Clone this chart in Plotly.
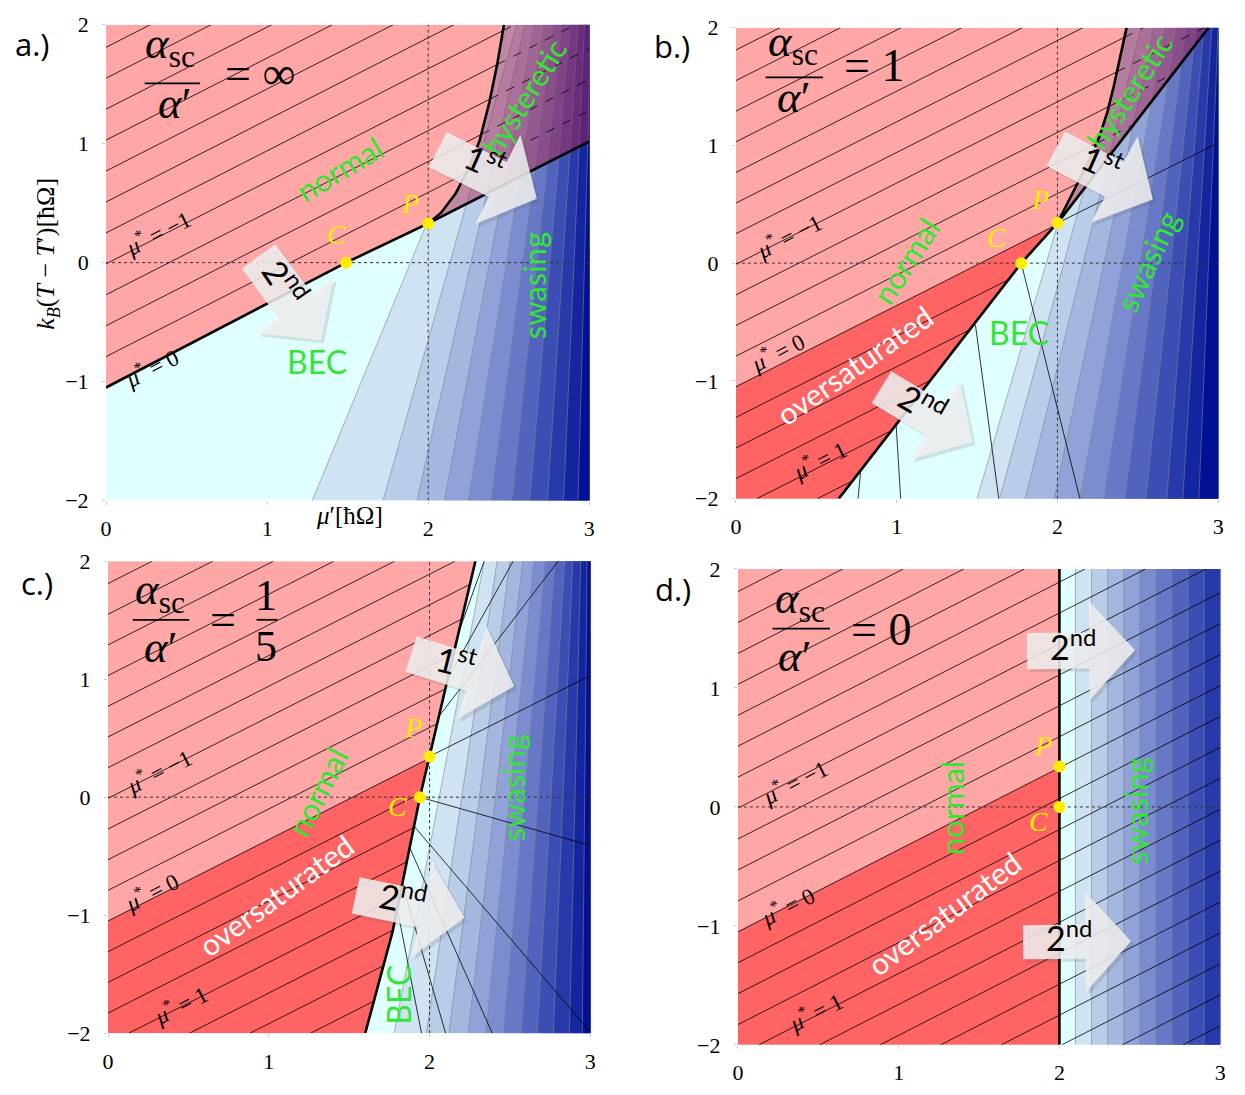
import math
import plotly.graph_objects as go

W, H = 1245, 1095

# ---------------- data ----------------
x_tick_vals = [0, 1, 2, 3]
y_tick_vals = [-2, -1, 0, 1, 2]

# mu* = const contour lines:  y = mu_slope*x + mu_zero_intercept - mu_step*level
mu_slope = 0.69
mu_zero_intercept = -1.05
mu_step = 1.04
mu_levels = [-2.75, -2.5, -2.25, -2.0, -1.75, -1.5, -1.25, -1.0, -0.75, -0.5, -0.25,
             0.0, 0.25, 0.5, 0.75, 1.0, 1.25, 1.5, 1.75, 2.0, 2.25, 2.5, 2.75]

band_colors = ["#cfe3f3", "#b9cce8", "#a4b7df", "#90a2d7", "#7b8dcf", "#6678c6",
               "#5163bd", "#3c4eb4", "#2839aa", "#1425a0", "#021094"]

# (a) alpha_sc/alpha' = infinity
a_second_x = [0.0, 1.49, 2.0]
a_second_y = [-1.05, 0.0, 0.33]
a_first_x = [2.0, 2.08, 2.17, 2.25, 2.32, 2.38, 2.43, 2.47]
a_first_y = [0.33, 0.42, 0.58, 0.79, 1.03, 1.35, 1.68, 2.0]
a_spinodal_x = [2.0, 3.0]
a_spinodal_y = [0.33, 1.02]
a_band_bottom = [1.28, 1.72, 1.93, 2.10, 2.25, 2.39, 2.52, 2.63, 2.74, 2.84, 2.93]
a_band_top = [2.50, 2.55, 2.60, 2.66, 2.72, 2.78, 2.83, 2.88, 2.93, 2.97, 3.01]
a_points_x = [1.49, 2.0]   # C, P
a_points_y = [0.0, 0.33]

# (b) alpha_sc/alpha' = 1
b_second_x = [0.64, 1.775, 2.0]
b_second_y = [-2.0, 0.0, 0.34]
b_first_x = [2.0, 2.1, 2.2, 2.26, 2.31, 2.35, 2.39, 2.43]
b_first_y = [0.34, 0.61, 0.88, 1.07, 1.28, 1.5, 1.75, 2.0]
b_spinodal_x = [2.0, 2.94]
b_spinodal_y = [0.34, 2.0]
b_band_bottom = [1.50, 1.64, 1.80, 1.98, 2.14, 2.29, 2.42, 2.55, 2.68, 2.78, 2.88]
b_band_top = [2.36, 2.44, 2.52, 2.60, 2.67, 2.74, 2.80, 2.86, 2.91, 2.96, 3.00]
b_thin_x = [[0.775, 0.76], [0.996, 1.025], [1.49, 1.635], [1.775, 2.14], [2.0, 3.0]]
b_thin_y = [[-1.78, -2.0], [-1.36, -2.0], [-0.525, -2.0], [0.0, -2.0], [0.34, 1.02]]
b_points_x = [1.775, 2.0]
b_points_y = [0.0, 0.34]

# (c) alpha_sc/alpha' = 1/5
c_second_x = [1.60, 1.77, 1.94, 2.0, 2.285]
c_second_y = [-2.0, -1.14, 0.0, 0.345, 2.0]
c_band_bottom = [1.78, 1.98, 2.12, 2.24, 2.35, 2.46, 2.57, 2.67, 2.77, 2.87, 2.95]
c_band_top = [2.34, 2.42, 2.50, 2.58, 2.65, 2.72, 2.78, 2.84, 2.89, 2.94, 2.98]
c_thin_x = [[2.0, 3.0], [1.94, 3.0], [1.90, 3.0], [1.88, 2.39], [1.83, 2.10], [1.80, 1.95],
            [2.05, 2.80], [2.12, 2.52], [2.19, 2.34]]
c_thin_y = [[0.345, 1.03], [0.0, -0.41], [-0.24, -1.99], [-0.44, -2.0], [-0.73, -2.0],
            [-0.95, -2.0], [0.67, 2.0], [1.02, 2.0], [1.43, 2.0]]
c_points_x = [1.94, 2.0]
c_points_y = [0.0, 0.345]

# (d) alpha_sc/alpha' = 0
d_second_x = [2.0, 2.0]
d_second_y = [-2.0, 2.0]
d_band_bottom = [2.1, 2.2, 2.3, 2.4, 2.5, 2.6, 2.7, 2.8, 2.9]
d_band_top = [2.1, 2.2, 2.3, 2.4, 2.5, 2.6, 2.7, 2.8, 2.9]
d_points_x = [2.0, 2.0]
d_points_y = [0.0, 0.34]

# ---------------- styles ----------------
PINK = "#ffa6a6"
RED = "#ff6464"
BEC = "#e0ffff"
HYST = "rgba(175,35,75,0.47)"
GREEN = "#33e633"
YELLOW = "#ffee00"
SERIF = "Liberation Serif"
SANS = "Lato"
GLYPH_DROP = 7   # compensation for annotation boxes that sit text low

# pixel boxes of the four plot areas: (left, right, top, bottom)
boxes = [(101, 589, 13, 500), (737, 1224, 16, 498), (103, 590, 562, 1045), (739, 1226, 570, 1057)]


def p2p(px, py):
    return px / W, 1 - py / H


def seg_hits(m, c, xs, ys):
    hits = []
    for i in range(len(xs) - 1):
        f1 = ys[i] - (m * xs[i] + c)
        f2 = ys[i + 1] - (m * xs[i + 1] + c)
        if f1 == f2:
            continue
        if f1 == 0 or f2 == 0 or (f1 < 0) != (f2 < 0):
            s = f1 / (f1 - f2)
            hits.append(xs[i] + s * (xs[i + 1] - xs[i]))
    return hits


def interp_x(y, xs, ys):
    for i in range(len(ys) - 1):
        if ys[i] <= y <= ys[i + 1] and ys[i + 1] != ys[i]:
            s = (y - ys[i]) / (ys[i + 1] - ys[i])
            return xs[i] + s * (xs[i + 1] - xs[i])
    return xs[0] if y < ys[0] else xs[-1]


fig = go.Figure()
shapes = []
anns = []
axes_layout = {}


def build_panel(idx, second_x, second_y, first_x, first_y, spin_x, spin_y,
                band_bottom, band_top, thin_x, thin_y, pts_x, pts_y, mode, n_offset=0):
    xa = "x" if idx == 1 else f"x{idx}"
    ya = "y" if idx == 1 else f"y{idx}"

    def add(x, y, **kw):
        fig.add_trace(go.Scatter(x=x, y=y, xaxis=xa, yaxis=ya, hoverinfo="skip",
                                 showlegend=False, **kw))

    # base BEC colour
    add([0, 3, 3, 0], [-2, -2, 2, 2], fill="toself", fillcolor=BEC, mode="none")
    # contour bands
    for i, (xb, xt) in enumerate(zip(band_bottom, band_top)):
        add([xb, xt, 3.3, 3.3], [-2, 2, 2, -2], fill="toself",
            fillcolor=band_colors[i + n_offset], mode="none")
    ex, ey = [], []
    for xb, xt in zip(band_bottom, band_top):
        ex += [xb, xt, None]
        ey += [-2, 2, None]
    add(ex, ey, mode="lines", line=dict(color="rgba(130,130,145,0.75)", width=0.8))

    # left (normal) boundary from bottom to top
    lx = list(second_x) + list(first_x[1:])
    ly = list(second_y) + list(first_y[1:])
    add([0, 0] + lx, [2, -2] + ly, fill="toself", fillcolor=PINK, mode="none")

    # oversaturated region
    if mode != "above":
        hz = seg_hits(mu_slope, mu_zero_intercept, lx, ly)
        xh = min(hz)
        yh = mu_slope * xh + mu_zero_intercept
        keep = [(x, y) for x, y in zip(lx, ly) if y < yh]
        ox = [0] + [k[0] for k in keep] + [xh, 0]
        oy = [-2] + [k[1] for k in keep] + [yh, mu_zero_intercept]
        add(ox, oy, fill="toself", fillcolor=RED, mode="none")

    # hysteretic overlay
    if len(first_x) > 1 and spin_x:
        hx = list(first_x) + ([3, 3] if spin_x[-1] >= 3 else [spin_x[-1]])
        hy = list(first_y) + ([2, spin_y[-1]] if spin_x[-1] >= 3 else [spin_y[-1]])
        add(hx, hy, fill="toself", fillcolor=HYST, mode="none")

    # mu* contour lines
    sx, sy, dx, dy = [], [], [], []
    for lev in mu_levels:
        c = mu_zero_intercept - mu_step * lev
        x0 = max(0.0, (-2.0 - c) / mu_slope)
        xtop = min(3.0, (2.0 - c) / mu_slope)
        if xtop <= x0:
            continue
        if mode == "full":
            sx += [x0, xtop, None]
            sy += [mu_slope * x0 + c, mu_slope * xtop + c, None]
            continue
        if mode == "above" and lev >= 0:
            continue
        y0 = mu_slope * x0 + c
        if mode == "left" and x0 >= interp_x(y0, lx, ly) - 1e-9:
            continue
        hits = [h for h in seg_hits(mu_slope, c, lx, ly) if h > x0 + 1e-9]
        xe = min(hits + [xtop])
        sx += [x0, xe, None]
        sy += [y0, mu_slope * xe + c, None]
        ye = mu_slope * xe + c
        if hits and xe < xtop and len(first_y) > 1 and ye >= first_y[0] - 1e-6:
            rh = [h for h in seg_hits(mu_slope, c, spin_x, spin_y) if h > xe + 1e-9] if mode == "left" else []
            xd = min(rh + [xtop])
            dx += [xe, xd, None]
            dy += [ye, mu_slope * xd + c, None]
    add(sx, sy, mode="lines", line=dict(color="black", width=0.8))
    if dx:
        add(dx, dy, mode="lines", line=dict(color="black", width=0.8, dash="dash"))

    # extra thin lines in the condensed region
    if thin_x:
        tx, ty = [], []
        for xs_, ys_ in zip(thin_x, thin_y):
            tx += xs_ + [None]
            ty += ys_ + [None]
        add(tx, ty, mode="lines", line=dict(color="black", width=0.8))

    # thick transition lines
    add(lx, ly, mode="lines", line=dict(color="black", width=2.6))
    if spin_x:
        add(spin_x, spin_y, mode="lines", line=dict(color="black", width=2.6))

    # dotted guides
    add([0, 3], [0, 0], mode="lines", line=dict(color="#333333", width=1, dash="dot"))
    if mode != "full":
        add([2, 2], [-2, 2], mode="lines", line=dict(color="#333333", width=1, dash="dot"))

    # C and P
    add(pts_x, pts_y, mode="markers", marker=dict(color=YELLOW, size=12), cliponaxis=False)

    # axes
    l, r, t, b = boxes[idx - 1]
    suf = "" if idx == 1 else str(idx)
    tick_font = dict(family=SERIF, size=22, color="black")
    axes_layout["xaxis" + suf] = dict(domain=[l / W, r / W], range=[0, 3], anchor=ya,
                                      tickmode="array", tickvals=x_tick_vals,
                                      ticktext=[str(v) for v in x_tick_vals],
                                      showgrid=False, zeroline=False,
                                      showline=False, ticks="outside", ticklen=3,
                                      tickcolor="#cccccc", ticklabelstandoff=5,
                                      tickfont=tick_font, fixedrange=True)
    axes_layout["yaxis" + suf] = dict(domain=[1 - b / H, 1 - t / H], range=[-2, 2], anchor=xa,
                                      tickmode="array", tickvals=y_tick_vals,
                                      ticktext=[str(v).replace("-", "−") for v in y_tick_vals],
                                      showgrid=False, zeroline=False,
                                      showline=False, ticks="outside", ticklen=3,
                                      tickcolor="#cccccc", ticklabelstandoff=9,
                                      tickfont=tick_font, fixedrange=True)


build_panel(1, a_second_x, a_second_y, a_first_x, a_first_y, a_spinodal_x, a_spinodal_y,
            a_band_bottom, a_band_top, None, None, a_points_x, a_points_y, "above")
build_panel(2, b_second_x, b_second_y, b_first_x, b_first_y, b_spinodal_x, b_spinodal_y,
            b_band_bottom, b_band_top, b_thin_x, b_thin_y, b_points_x, b_points_y, "left")
build_panel(3, c_second_x, c_second_y, [c_second_x[-1]], [c_second_y[-1]], [], [],
            c_band_bottom, c_band_top, c_thin_x, c_thin_y, c_points_x, c_points_y, "left")
build_panel(4, d_second_x, d_second_y, [d_second_x[-1]], [d_second_y[-1]], [], [],
            d_band_bottom, d_band_top, None, None, d_points_x, d_points_y, "full")


def shift_for(angle):
    t = math.radians(angle)
    return GLYPH_DROP * math.sin(t), GLYPH_DROP * math.cos(t)


# ---------------- text in data coordinates ----------------
def dtext(idx, x, y, text, size, color, family, angle=0):
    xa = "x" if idx == 1 else f"x{idx}"
    ya = "y" if idx == 1 else f"y{idx}"
    xs_, ys_ = shift_for(angle)
    anns.append(dict(x=x, y=y, xref=xa, yref=ya, text=text, showarrow=False, textangle=angle,
                     font=dict(size=size, color=color, family=family),
                     xanchor="center", yanchor="middle", xshift=xs_, yshift=ys_))


MU = "<i>μ</i><sup>*</sup> = "
mu_lab = {1: [(0.34, 0.20, "−1"), (0.30, -0.93, "0")],
          2: [(0.35, 0.18, "−1"), (0.28, -0.80, "0"), (0.54, -1.72, "1")],
          3: [(0.34, 0.17, "−1"), (0.29, -0.85, "0"), (0.47, -1.81, "1")],
          4: [(0.375, 0.16, "−1"), (0.33, -0.88, "0"), (0.50, -1.77, "1")]}
for idx, items in mu_lab.items():
    for x, y, v in items:
        dtext(idx, x, y, MU + v, 23, "black", SERIF, -27)

for idx, x, y, ang in [(1, 1.47, 0.74, -31), (2, 1.09, -0.01, -57), (3, 1.34, 0.02, -63), (4, 1.376, -0.01, -90)]:
    dtext(idx, x, y, "normal", 31, GREEN, SANS, ang)
for idx, x, y, ang in [(1, 1.31, -0.89, 0), (2, 1.76, -0.65, 0), (3, 1.85, -1.67, -90)]:
    dtext(idx, x, y, "BEC", 32, GREEN, SANS, ang)
for idx, x, y, ang in [(1, 2.70, -0.19, -90), (2, 2.60, -0.01, -65), (3, 2.56, 0.08, -90), (4, 2.52, -0.04, -90)]:
    dtext(idx, x, y, "swasing", 31, GREEN, SANS, ang)
for idx, x, y, ang in [(1, 2.63, 1.36, -58), (2, 2.48, 1.43, -57)]:
    dtext(idx, x, y, "hysteretic", 30, GREEN, SANS, ang)
for idx, x, y, ang in [(2, 0.76, -0.91, -35), (3, 1.07, -0.88, -36), (4, 1.31, -0.94, -37)]:
    dtext(idx, x, y, "oversaturated", 30, "white", SANS, ang)
for idx, cx, cy, px_, py_ in [(1, 1.43, 0.18, 1.885, 0.44), (2, 1.62, 0.16, 1.89, 0.48),
                              (3, 1.80, -0.14, 1.90, 0.53), (4, 1.87, -0.18, 1.90, 0.46)]:
    dtext(idx, cx, cy, "<i>C</i>", 28, YELLOW, SERIF)
    dtext(idx, px_, py_, "<i>P</i>", 28, YELLOW, SERIF)


# ---------------- text and arrows in pixel positions ----------------
def ptext(px, py, text, size, color="black", family=SERIF, angle=0, drop=None):
    X, Y = p2p(px, py)
    xs_, ys_ = shift_for(angle)
    if drop is not None:
        ys_ = drop
    anns.append(dict(x=X, y=Y, xref="paper", yref="paper", text=text, showarrow=False,
                     textangle=angle, font=dict(size=size, color=color, family=family),
                     xanchor="center", yanchor="middle", xshift=xs_, yshift=ys_))


def pline(x0, x1, y):
    X0, Y = p2p(x0, y)
    X1, _ = p2p(x1, y)
    shapes.append(dict(type="line", xref="paper", yref="paper", x0=X0, x1=X1, y0=Y, y1=Y,
                       line=dict(color="black", width=1.8), layer="above"))


def arrow_path(tail, tip, body_w, head_w, head_len, off=(0, 0)):
    (tx, ty), (hx, hy) = tail, tip
    L = math.hypot(hx - tx, hy - ty)
    ux, uy = (hx - tx) / L, (hy - ty) / L
    nx, ny = -uy, ux
    bx, by = hx - ux * head_len, hy - uy * head_len
    pts = [(tx + nx * body_w / 2, ty + ny * body_w / 2), (bx + nx * body_w / 2, by + ny * body_w / 2),
           (bx + nx * head_w / 2, by + ny * head_w / 2), (hx, hy),
           (bx - nx * head_w / 2, by - ny * head_w / 2), (bx - nx * body_w / 2, by - ny * body_w / 2),
           (tx - nx * body_w / 2, ty - ny * body_w / 2)]
    s = ""
    for i, (x, y) in enumerate(pts):
        X, Y = p2p(x + off[0], y + off[1])
        s += ("M" if i == 0 else "L") + f"{X:.5f},{Y:.5f} "
    return s + "Z"


arrows = [  # tail, tip, body width, head width, head length, label, label pos, label angle
    ((255, 250), (318, 336), 42, 96, 44, "2<sup>nd</sup>", (277, 280), 56),
    ((436, 141), (536, 191), 40, 102, 44, "1<sup>st</sup>", (481, 158), 24),
    ((1060, 140), (1158, 192), 40, 100, 44, "1<sup>st</sup>", (1104, 159), 24),
    ((884, 384), (976, 440), 38, 95, 44, "2<sup>nd</sup>", (922, 406), 30),
    ((409, 657), (513, 690), 38, 100, 45, "1<sup>st</sup>", (453, 670), 14),
    ((353, 904), (463, 927), 38, 100, 44, "2<sup>nd</sup>", (400, 913), 11),
    ((1031, 654), (1140, 653), 37, 101, 46, "2<sup>nd</sup>", (1077, 655), 0),
    ((1027, 952), (1136, 951), 35, 103, 46, "2<sup>nd</sup>", (1073, 953), 0),
]
for tail, tip, bw, hw, hl, lab, lpos, lang in arrows:
    shapes.append(dict(type="path", xref="paper", yref="paper",
                       path=arrow_path(tail, tip, bw, hw, hl, off=(3, 3)),
                       fillcolor="rgba(80,80,80,0.16)", line=dict(width=0), layer="above"))
    shapes.append(dict(type="path", xref="paper", yref="paper",
                       path=arrow_path(tail, tip, bw, hw, hl),
                       fillcolor="rgba(240,240,240,0.86)", line=dict(width=0), layer="above"))
    ptext(lpos[0], lpos[1], lab, 34, "black", SANS, lang)

# panel letters
for px_, py_, t in [(27, 40, "a.)"), (672, 42, "b.)"), (31, 592, "c.)"), (673, 598, "d.)")]:
    ptext(px_, py_, t, 31, "black", "Open Sans")

# ratio formulas: numerator pos, bar x-range & y, denominator pos, vertical nudges
NUM = "<i>α</i><sub>sc</sub>"
DEN = "<i>α</i>′"
for nx_, ny_, bx0, bx1, by_, dx_, dy_, nd, dd in [(166, 52, 140, 196, 73, 170, 100, 17, 7),
                                                (795, 50, 767, 825, 67, 795, 94, 17, 7),
                                                (156, 601, 128, 185, 622, 156, 650, 7, 0),
                                                (802, 609, 774, 832, 631, 796, 659, 6, 0)]:
    ptext(nx_, ny_, NUM, 45, drop=nd)
    pline(bx0, bx1, by_)
    ptext(dx_, dy_, DEN, 45, drop=dd)
ptext(256, 74, "= ∞", 46, drop=11)
ptext(876, 66, "= 1", 46, drop=11)
ptext(219, 622, "=", 46, drop=0)
ptext(263, 596, "1", 44, drop=-1)
pline(253, 274, 622)
ptext(263, 648, "5", 44, drop=-1)
ptext(884, 632, "= 0", 46, drop=0)

# axis titles (panel a only)
ptext(49, 248, "<i>k</i><sub><i>B</i></sub>(<i>T</i> − <i>T</i>′)[ħΩ]", 26, angle=-90)
ptext(347, 522, "<i>μ</i>′[ħΩ]", 25)

fig.update_layout(width=W, height=H, margin=dict(l=0, r=0, t=0, b=0),
                  paper_bgcolor="white", plot_bgcolor="white",
                  font=dict(family=SERIF, size=22, color="black"),
                  shapes=shapes, annotations=anns, showlegend=False, **axes_layout)
fig.write_html("out.html")
